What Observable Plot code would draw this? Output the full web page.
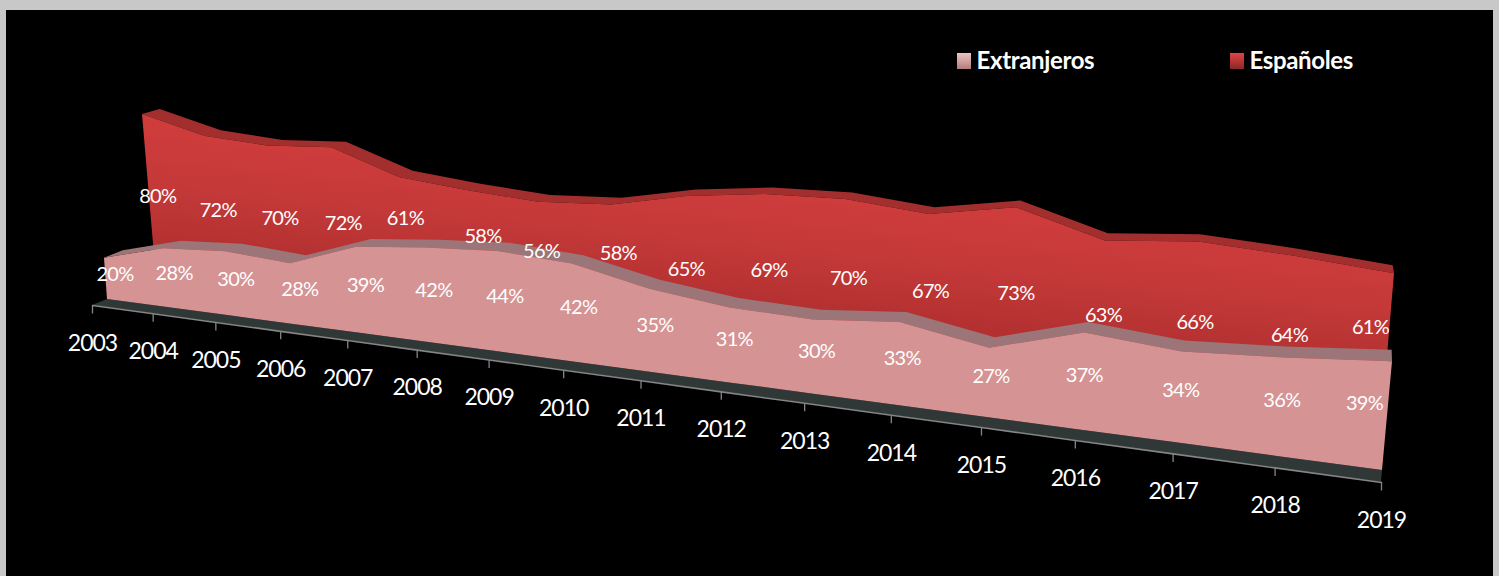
<!DOCTYPE html>
<html>
<head>
<meta charset="utf-8">
<script src="https://cdn.jsdelivr.net/npm/d3@7"></script>
<script src="https://cdn.jsdelivr.net/npm/@observablehq/plot@0.6"></script>
<style>
html,body{margin:0;padding:0;background:#c8c8c8;overflow:hidden}
svg{display:block}
.lab text{letter-spacing:-.7px}
.yr text{letter-spacing:-1px}
.leg text{letter-spacing:-.35px}
</style>
</head>
<body>
<div id="chart"></div>
<script>
const years = [2003,2004,2005,2006,2007,2008,2009,2010,2011,2012,2013,2014,2015,2016,2017,2018,2019];
const extranjeros = [20,28,30,28,39,42,44,42,35,31,30,33,27,37,34,36,39];
const espanoles = [80,72,70,72,61,58,56,58,65,69,70,67,73,63,66,64,61];

// The source is a 3D area chart: every value is projected through a perspective camera
const planes = {
  pinkFront:{x0:107,x1:1382,y0:299,y1:470,H:279,c:.35,l0:-.073,l1:.092},
  pinkMid:  {x0:116,x1:1382,y0:295,y1:463,H:279,c:.35,l0:-.073,l1:.092},
  pinkBack: {x0:126,x1:1382,y0:291,y1:457,H:275,c:.35,l0:-.08, l1:.09},
  redFront: {x0:155.6,x1:1380,y0:274,y1:438,H:270,c:.30,l0:-.085,l1:.085},
  redMid:   {x0:164,x1:1380,y0:270,y1:432,H:268,c:.30,l0:-.085,l1:.085},
  redBack:  {x0:173,x1:1379,y0:266,y1:427,H:265,c:.30,l0:-.085,l1:.085},
  axis:     {x0:92,x1:1381,y0:305,y1:482,H:0,c:.35,l0:0,l1:0}
};
function project(p, year, pct){
  const u=(year-2003)/16, f=u/(1+p.c*(1-u)), s=1/(1+.35*(1-u));
  const bx=p.x0+(p.x1-p.x0)*f, by=p.y0+(p.y1-p.y0)*f;
  const h=pct/100*p.H*s, lean=p.l0+(p.l1-p.l0)*f;
  return {bx,by,tx:bx+lean*h,ty:by-h};
}
const layer=(p,vals)=>years.map((yr,i)=>project(p,yr,vals[i]));
const band=(a,b)=>a.map((d,i)=>({x1:d.tx,y1:d.ty,x2:b[i].tx,y2:b[i].ty}));
const labels=(p,vals)=>years.map((yr,i)=>{const q=project(p,yr,vals[i]/2);return {x:q.tx,y:q.ty,text:vals[i]+"%",year:yr};});

const pinkFront=layer(planes.pinkFront,extranjeros), pinkBack=layer(planes.pinkBack,extranjeros);
const redFront=layer(planes.redFront,espanoles), redBack=layer(planes.redBack,espanoles);
const axisPts=years.map(yr=>({...project(planes.axis,yr,0),year:yr}));
const last=years[years.length-1];
// Labels in the source sit off the mid-height of the face in these years
const lift={2003:-6,2004:-5,2005:-4,2006:-4,2007:20,2008:13,2009:8,2010:13,2011:-3};
const shiftX={2007:-4,2008:6,2009:-5,2011:-6};
const redLab=labels(planes.redMid,espanoles).map(d=>({...d,x:d.x+(shiftX[d.year]||0),y:d.y-(lift[d.year]||0)}));
const pinkLab=labels(planes.pinkMid,extranjeros);

const font="Lato, sans-serif";
const defs=()=>{
  const g=document.createElementNS("http://www.w3.org/2000/svg","g");
  g.innerHTML=`<defs>
  <linearGradient id="redFace" gradientUnits="userSpaceOnUse" x1="700" y1="180" x2="684" y2="340">
    <stop offset="0" stop-color="#cf3c3c"/><stop offset=".35" stop-color="#c53939"/><stop offset="1" stop-color="#a82b2b"/></linearGradient>
  <linearGradient id="swA" x1="0" y1="0" x2="0" y2="1"><stop offset="0" stop-color="#eec4c4"/><stop offset="1" stop-color="#b57c7c"/></linearGradient>
  <linearGradient id="swB" x1="0" y1="0" x2="0" y2="1"><stop offset="0" stop-color="#e24444"/><stop offset="1" stop-color="#8a2828"/></linearGradient>
  </defs>`;
  return g;
};
const labelStyle={fill:"#fff",fontSize:20,fontFamily:font,className:"lab"};

const plot=Plot.plot({
  width:1499,height:576,margin:0,
  style:{background:"#c8c8c8",fontFamily:font},
  x:{domain:[0,1499],axis:null},
  y:{domain:[576,0],axis:null},
  marks:[
    defs,
    Plot.rect([{}],{x1:()=>6,x2:()=>1493,y1:()=>10,y2:()=>576,fill:"#000"}),
    // floor
    Plot.area(years.map((yr,i)=>({a:pinkFront[i].bx,b:pinkFront[i].by,c:axisPts[i].bx,d:axisPts[i].by})),{x1:"c",y1:"d",x2:"a",y2:"b",fill:"#2f3737"}),
    Plot.line(axisPts,{x:"bx",y:"by",stroke:"#858585",strokeWidth:1.6}),
    Plot.link(axisPts,{x1:"bx",x2:"bx",y1:"by",y2:d=>d.by+8,stroke:"#858585",strokeWidth:1.3}),
    Plot.text(axisPts,{x:"bx",y:d=>d.by+38,text:d=>String(d.year),fill:"#fff",fontSize:23,fontFamily:font,className:"yr"}),
    // Españoles
    Plot.area(band(redFront,redBack),{x1:"x1",y1:"y1",x2:"x2",y2:"y2",fill:"#a22f2d"}),
    Plot.area(redFront,{x1:"bx",y1:"by",x2:"tx",y2:"ty",fill:"url(#redFace)"}),
    // Extranjeros
    Plot.area(band(pinkFront,pinkBack),{x1:"x1",y1:"y1",x2:"x2",y2:"y2",fill:"#9b7577"}),
    Plot.area(pinkFront,{x1:"bx",y1:"by",x2:"tx",y2:"ty",fill:"#d59394"}),
    // data labels
    Plot.text(redLab.filter(d=>d.year!==last),{x:"x",y:"y",text:"text",...labelStyle}),
    Plot.text(redLab.filter(d=>d.year===last),{x:"x",y:"y",text:"text",dx:-17,dy:-23,...labelStyle}),
    Plot.text(pinkLab.filter(d=>d.year!==last),{x:"x",y:"y",text:"text",...labelStyle}),
    Plot.text(pinkLab.filter(d=>d.year===last),{x:"x",y:"y",text:"text",dx:-23,dy:-6,...labelStyle}),
    // legend
    Plot.rect([{}],{x1:()=>957,x2:()=>971,y1:()=>53,y2:()=>69,fill:"url(#swA)"}),
    Plot.rect([{}],{x1:()=>1230,x2:()=>1244,y1:()=>53,y2:()=>69,fill:"url(#swB)"}),
    Plot.text(["Extranjeros"],{x:()=>976,y:()=>61,text:d=>d,textAnchor:"start",fill:"#fff",fontSize:24,fontWeight:"bold",fontFamily:font,className:"leg"}),
    Plot.text(["Españoles"],{x:()=>1249,y:()=>61,text:d=>d,textAnchor:"start",fill:"#fff",fontSize:24,fontWeight:"bold",fontFamily:font,className:"leg"})
  ]
});
document.getElementById("chart").append(plot);
</script>
</body>
</html>
